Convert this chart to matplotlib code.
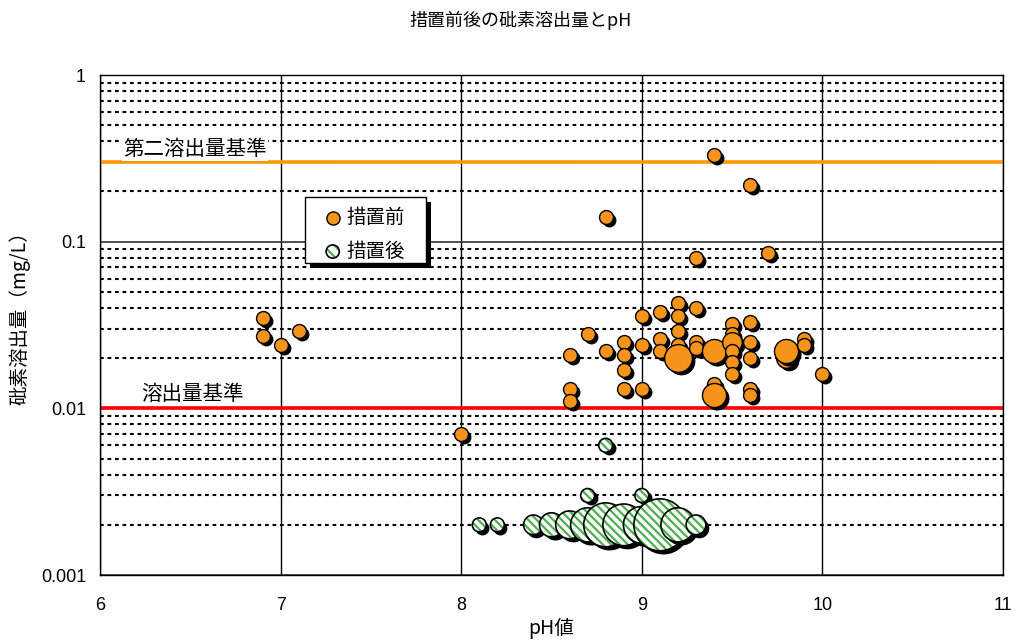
import matplotlib
matplotlib.use("Agg")
import matplotlib.pyplot as plt
from matplotlib.transforms import offset_copy
from matplotlib.legend_handler import HandlerTuple
from matplotlib.patches import Rectangle
from matplotlib.ticker import FixedLocator, NullFormatter, FuncFormatter

plt.rcParams['font.family'] = ['Noto Sans CJK JP', 'DejaVu Sans']
plt.rcParams['hatch.linewidth'] = 1.6
plt.rcParams['hatch.color'] = '#4DAF50'

# --- data: pH, arsenic leaching (mg/L), number of samples (bubble size) ---
before_ph = [6.9, 6.9, 7.0, 7.1, 8.0, 8.6, 8.6, 8.6, 8.7, 8.8, 8.8,
             8.9, 8.9, 8.9, 8.9, 9.0, 9.0, 9.0, 9.1, 9.1, 9.1,
             9.2, 9.2, 9.2, 9.2, 9.2, 9.3, 9.3, 9.3, 9.3,
             9.4, 9.4, 9.4, 9.4, 9.5, 9.5, 9.5, 9.5, 9.5, 9.5,
             9.6, 9.6, 9.6, 9.6, 9.6, 9.6, 9.7, 9.8, 9.8, 9.9, 9.9, 10.0]
before_as = [0.035, 0.027, 0.024, 0.029, 0.007, 0.021, 0.013, 0.011, 0.028, 0.14, 0.022,
             0.025, 0.021, 0.017, 0.013, 0.036, 0.024, 0.013, 0.038, 0.026, 0.022,
             0.043, 0.036, 0.029, 0.024, 0.020, 0.080, 0.040, 0.025, 0.023,
             0.33, 0.022, 0.014, 0.012, 0.032, 0.028, 0.025, 0.022, 0.019, 0.016,
             0.22, 0.033, 0.025, 0.020, 0.013, 0.012, 0.085, 0.020, 0.022, 0.026, 0.024, 0.016]
before_n = [1, 1, 1, 1, 1, 1, 1, 1, 1, 1, 1,
            1, 1, 1, 1, 1, 1, 1, 1, 1, 1,
            1, 1, 1, 1, 4, 1, 1, 1, 1,
            1, 3, 1, 3, 1, 1, 2, 1, 1, 1,
            1, 1, 1, 1, 1, 1, 1, 2, 3, 1, 1, 1]

after_ph = [8.8, 8.7, 9.0, 8.1, 8.2, 8.4, 8.5, 8.6, 8.7, 8.8, 8.9, 9.0, 9.1, 9.2, 9.3]
after_as = [0.006, 0.003, 0.003, 0.002, 0.002, 0.002, 0.002, 0.002, 0.002,
            0.002, 0.002, 0.002, 0.002, 0.002, 0.002]
after_n = [1, 1, 1, 1, 1, 2, 3, 4, 6, 10, 9, 7, 14, 6, 2]

second_std = 0.3     # 第二溶出量基準
leach_std = 0.01     # 溶出量基準

x_ticks = [6, 7, 8, 9, 10, 11]
y_ticks = [0.001, 0.01, 0.1, 1]

title = '措置前後の砒素溶出量とpH'
xlabel = 'pH値'
ylabel = '砒素溶出量（mg/L）'
label_before = '措置前'
label_after = '措置後'

ORANGE = '#F5931A'
GREEN = '#4DAF50'
S1 = 100  # marker area (pt^2) of one sample

W, H = 1016, 642
fig = plt.figure(figsize=(W / 100, H / 100), dpi=100)
ax = fig.add_axes([100 / W, 1 - 575 / H, 903 / W, 500 / H])
ax.set_xlim(6, 11)
ax.set_yscale('log')
ax.set_ylim(0.001, 1)

# grid
ax.xaxis.set_major_locator(FixedLocator(x_ticks))
ax.yaxis.set_major_locator(FixedLocator(y_ticks))
ax.yaxis.set_minor_locator(FixedLocator(
    [m * d for d in (0.001, 0.01, 0.1) for m in range(2, 10)]))
ax.yaxis.set_minor_formatter(NullFormatter())
ax.yaxis.set_major_formatter(FuncFormatter(lambda v, p: f'{v:g}'))
ax.xaxis.grid(True, color='black', lw=1.0)
ax.yaxis.grid(True, which='major', color='#333333', lw=1.2)
ax.yaxis.grid(True, which='minor', color='black', lw=1.5, linestyle=(0, (1.8, 1.8)))
ax.set_axisbelow(True)
ax.tick_params(which='both', length=0)
ax.tick_params(axis='y', pad=10, labelsize=13)
ax.tick_params(axis='x', pad=16, labelsize=13)
for lab in ax.get_xticklabels() + ax.get_yticklabels():
    lab.set_fontfamily(['Liberation Sans', 'DejaVu Sans'])
for sp in ax.spines.values():
    sp.set_color('black')
    sp.set_linewidth(1.0)

# reference lines
ax.axhline(second_std, color='#FF9900', lw=2.6, zorder=2)
ax.axhline(leach_std, color='#FF0000', lw=2.6, zorder=2)
ax.text(6.13, 0.36, '第二溶出量基準', fontsize=14.8, va='center', ha='left',
        bbox=dict(facecolor='white', edgecolor='none', pad=1), zorder=3)
ax.text(6.23, 0.0122, '溶出量基準', fontsize=14.8, va='center', ha='left',
        bbox=dict(facecolor='white', edgecolor='none', pad=1), zorder=3)

shadow_tr = offset_copy(ax.transData, fig=fig, x=3, y=-3, units='dots')

z = 4.0
for x, y, n in zip(before_ph, before_as, before_n):
    ax.scatter([x], [y], s=S1 * n, color='black', transform=shadow_tr,
               zorder=z, linewidths=0)
    ax.scatter([x], [y], s=S1 * n, facecolor=ORANGE, edgecolor='black',
               linewidths=1.0, zorder=z + 0.001)
    z += 0.01

for x, y, n in zip(after_ph, after_as, after_n):
    ax.scatter([x], [y], s=S1 * n, color='black', transform=shadow_tr,
               zorder=z, linewidths=0)
    ax.scatter([x], [y], s=S1 * n, facecolor='white', edgecolor=GREEN,
               linewidths=0, hatch='\\\\\\\\', zorder=z + 0.001)
    ax.scatter([x], [y], s=S1 * n, facecolor='none', edgecolor='black',
               linewidths=1.2, zorder=z + 0.002)
    z += 0.01

# legend box with drop shadow
box_x0, box_y0, box_x1, box_y1 = 305, 197, 426, 263
ax.add_patch(Rectangle(((box_x0 + 5) / W, 1 - (box_y1 + 5) / H),
                       (box_x1 - box_x0) / W, (box_y1 - box_y0) / H,
                       transform=fig.transFigure, facecolor='black',
                       edgecolor='none', zorder=9, clip_on=False))
ax.add_patch(Rectangle((box_x0 / W, 1 - box_y1 / H),
                       (box_x1 - box_x0) / W, (box_y1 - box_y0) / H,
                       transform=fig.transFigure, facecolor='white',
                       edgecolor='black', lw=1.0, zorder=9.5, clip_on=False))

h_before = ax.scatter([], [], s=90, facecolor=ORANGE, edgecolor='black', linewidths=1.0)
h_after_fill = ax.scatter([], [], s=90, facecolor='white', edgecolor=GREEN,
                          linewidths=0, hatch='\\\\\\')
h_after_edge = ax.scatter([], [], s=90, facecolor='none', edgecolor='black', linewidths=1.2)
leg = ax.legend([h_before, (h_after_fill, h_after_edge)], [label_before, label_after],
                handler_map={tuple: HandlerTuple(ndivide=1)},
                loc='upper left', bbox_to_anchor=(323 / W, 1 - 207 / H),
                bbox_transform=fig.transFigure, fontsize=14, frameon=False,
                borderpad=0, handlelength=1.0, handletextpad=0.2,
                labelspacing=0.65, borderaxespad=0, scatterpoints=1)
leg.set_zorder(10)

fig.text(520 / W, 1 - 20 / H, title, fontsize=13, ha='center', va='center')
fig.text(551 / W, 1 - 628 / H, xlabel, fontsize=14, ha='center', va='center')
fig.text(20 / W, 1 - 313 / H, ylabel, fontsize=14, ha='center', va='center',
         rotation=90)

fig.savefig('out.png', dpi=100)
